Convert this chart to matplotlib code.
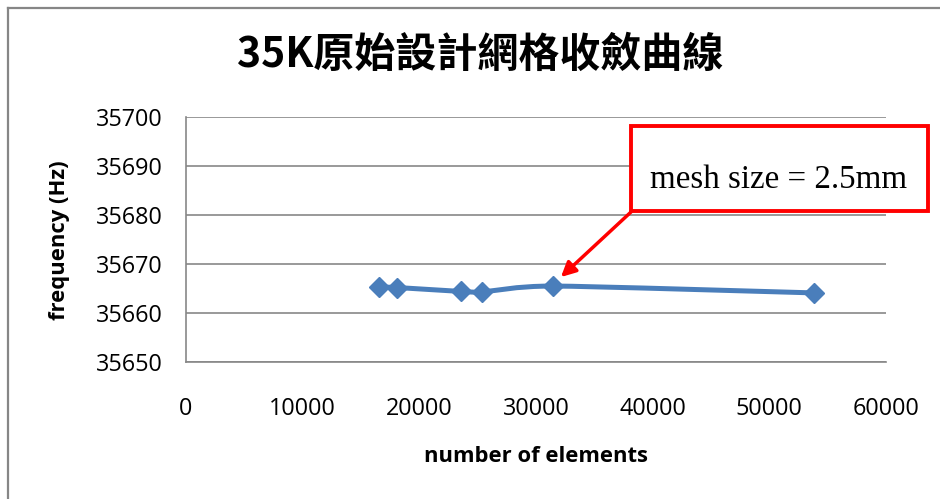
import matplotlib
matplotlib.use("Agg")
import matplotlib.pyplot as plt
from matplotlib.path import Path
from matplotlib.patches import PathPatch, Rectangle, FancyArrowPatch
from matplotlib.lines import Line2D
import numpy as np

# ---- data ----
elements = [16540, 18080, 23560, 25360, 31450, 53810]
frequency = [35665.3, 35665.2, 35664.4, 35664.3, 35665.5, 35664.1]
x_ticks = [0, 10000, 20000, 30000, 40000, 50000, 60000]
y_ticks = [35650, 35660, 35670, 35680, 35690, 35700]
title = "35K原始設計網格收斂曲線"
xlabel = "number of elements"
ylabel = "frequency (Hz)"
note = "mesh size = 2.5mm"
note_index = 4

W, H = 940, 499
fig = plt.figure(figsize=(W / 100, H / 100), dpi=100)
fig.patch.set_facecolor("white")

def fx(px):
    return px / W

def fy(py):
    return 1 - py / H

ax = fig.add_axes([fx(186), fy(362), fx(886) - fx(186), fy(117) - fy(362)])
ax.set_xlim(0, 60000)
ax.set_ylim(35650, 35700)
ax.set_xticks(x_ticks)
ax.set_yticks(y_ticks)
ax.set_xticklabels([str(v) for v in x_ticks])
ax.set_yticklabels([str(v) for v in y_ticks])
ax.tick_params(length=0, labelsize=16.8, labelcolor="#000000")
ax.tick_params(axis="y", pad=17)
ax.tick_params(axis="x", pad=25)
for lab in ax.get_xticklabels() + ax.get_yticklabels():
    lab.set_fontfamily("Open Sans")
ax.grid(axis="y", color="#878787", lw=1.2)
ax.set_axisbelow(True)
for s in ["top", "right"]:
    ax.spines[s].set_visible(False)
for s in ["left", "bottom"]:
    ax.spines[s].set_color("#878787")
    ax.spines[s].set_linewidth(1.2)

# smoothed line (Bezier through the points, like Excel smooth line)
pts = np.column_stack([elements, frequency]).astype(float)
verts = [tuple(pts[0])]
codes = [Path.MOVETO]
n = len(pts)
k = 1.0 / 9.0
for i in range(n - 1):
    p0 = pts[i - 1] if i > 0 else pts[i]
    p1 = pts[i]
    p2 = pts[i + 1]
    p3 = pts[i + 2] if i + 2 < n else pts[i + 1]
    c1 = p1 + (p2 - p0) * k
    c2 = p2 - (p3 - p1) * k
    verts += [tuple(c1), tuple(c2), tuple(p2)]
    codes += [Path.CURVE4] * 3
ax.add_patch(PathPatch(Path(verts, codes), facecolor="none", edgecolor="#4A7EBB",
                       lw=3.6, capstyle="round", joinstyle="round", zorder=3))
ax.plot(elements, frequency, linestyle="none", marker="D", ms=10,
        color="#4A7EBB", mec="#4A7EBB", zorder=4)

# title and labels
fig.text(fx(480), fy(55), title, ha="center", va="center", fontsize=29.5,
         fontweight="bold", family=["Noto Sans CJK TC", "DejaVu Sans"])
fig.text(fx(536), fy(456), xlabel, ha="center", va="center", fontsize=15.8,
         fontweight="bold", family="Open Sans")
fig.text(fx(60), fy(240), ylabel, ha="center", va="center", fontsize=15.8,
         fontweight="bold", family="Open Sans", rotation=90)

# annotation box and arrow
fig.patches.append(Rectangle((fx(631), fy(211)), fx(928) - fx(631), fy(126) - fy(211),
                             transform=fig.transFigure, facecolor="white",
                             edgecolor="#FF0000", lw=2.8, zorder=5))
fig.text(fx(779), fy(180), note, ha="center", va="center", fontsize=23.8,
         family="Liberation Serif", zorder=6)
tip = ax.transData.transform((elements[note_index], frequency[note_index]))
tip_fig = fig.transFigure.inverted().transform(tip + np.array([8, 9]))
fig.patches.append(FancyArrowPatch((fx(631), fy(212)), tuple(tip_fig),
                                   transform=fig.transFigure, arrowstyle="-|>",
                                   mutation_scale=22, color="#FF0000", lw=2.5,
                                   shrinkA=0, shrinkB=0, zorder=5))

# outer chart border
fig.lines.append(Line2D([fx(8), fx(8)], [0, fy(8)], transform=fig.transFigure,
                        color="#868686", lw=1.6))
fig.lines.append(Line2D([fx(8), 1], [fy(8), fy(8)], transform=fig.transFigure,
                        color="#868686", lw=1.6))

fig.savefig("out.png", dpi=100, facecolor="white")
